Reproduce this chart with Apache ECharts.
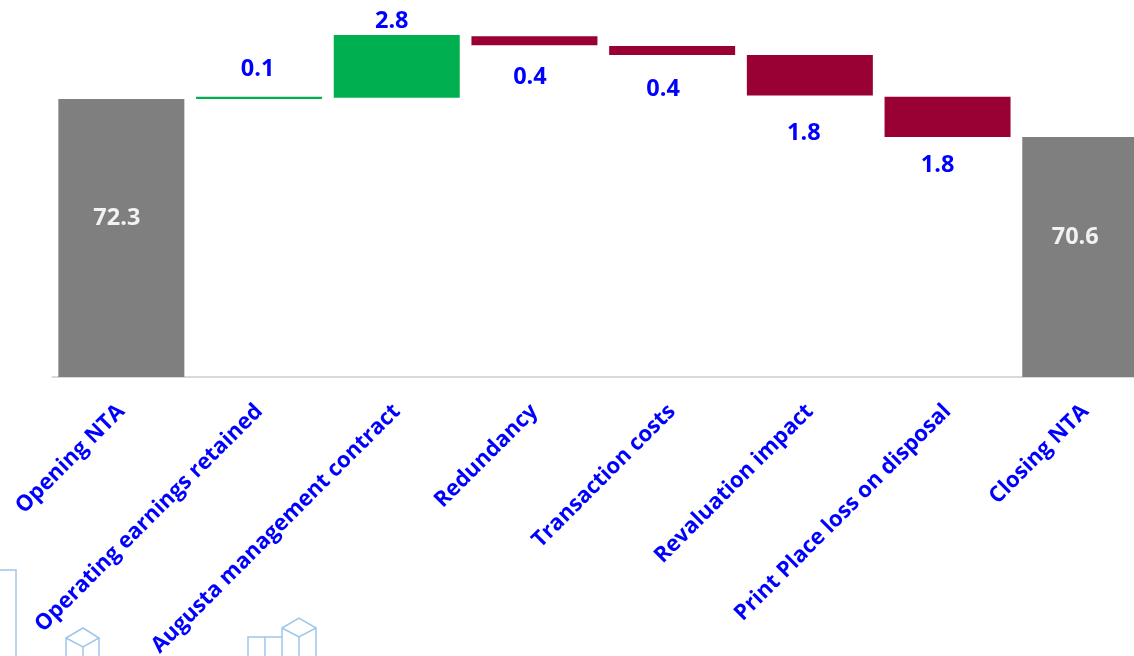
<!DOCTYPE html>
<html>
<head>
<meta charset="utf-8">
<style>html,body{margin:0;padding:0;background:#fff;overflow:hidden}#chart{width:1134px;height:656px}</style>
<script src="https://cdn.jsdelivr.net/npm/echarts@6/dist/echarts.min.js"></script>
</head>
<body>
<div id="chart"></div>
<script>
// NTA bridge: opening balance, movements, closing balance
const categories = ['Opening NTA','Operating earnings retained','Augusta management contract','Redundancy','Transaction costs','Revaluation impact','Print Place loss on disposal','Closing NTA'];
const amounts = [72.3, 0.1, 2.8, 0.4, 0.4, 1.8, 1.8, 70.6];
const floorLevels = [0, 72.3, 72.35, 74.7, 74.26, 72.46, 70.6, 0];
const kinds = ['total','up','up','down','down','down','down','total'];
const palette = {total:'#7f7f7f', up:'#00b050', down:'#990033'};
// Label nudges from each bar's centre, in pixels
const labelShiftX = [-4.5, -1.5, -5, -4.5, -9, -6, -10, -10];
const labelShiftY = [-20, -29, -45, 37, 39, 58, 48, -20];
const FONT = '"Open Sans", sans-serif';
const BLUE = '#0000ff';

const chart = echarts.init(document.getElementById('chart'), null, {renderer:'canvas'});

// Outline pictograms along the lower edge of the slide
const iconPaths = [
  [[0,570],[16,570],[16,656]],
  [[66,656],[66,638],[83,628],[99,638],[83,647],[66,638]],
  [[99,638],[99,656]],
  [[83,647],[83,656]],
  [[248,656],[248,637],[282,637]],
  [[265,637],[265,656]],
  [[282,656],[282,628],[299,618],[316,628],[299,637],[282,628]],
  [[299,637],[299,656]],
  [[316,628],[316,656]]
];

chart.setOption({
  animation:false,
  backgroundColor:'#fff',
  grid:{left:52.5, top:16, width:1101.6, height:361, containLabel:false, outerBoundsMode:'none'},
  xAxis:{
    type:'category', data:categories,
    axisTick:{show:false},
    axisLine:{show:true, lineStyle:{color:'#d9d9d9', width:2}},
    axisLabel:{interval:0, rotate:45, color:BLUE, fontFamily:FONT, fontWeight:'bold', fontSize:22, margin:31}
  },
  yAxis:{type:'value', min:59.9, max:76, show:false, splitLine:{show:false}},
  series:[
    {type:'bar', stack:'bridge', silent:true, barWidth:'91.5%', itemStyle:{color:'transparent'},
     data:floorLevels.map(v => v === 0 ? null : v)},
    {type:'bar', stack:'bridge', barWidth:'91.5%',
     data:amounts.map((v,i) => ({
       value:v,
       itemStyle:{color:palette[kinds[i]]},
       label:{show:true, position:'inside', offset:[labelShiftX[i],labelShiftY[i]], formatter:v.toFixed(1),
              color:kinds[i]==='total' ? '#f2f2f2' : BLUE,
              fontFamily:FONT, fontWeight:'bold', fontSize:23.5}
     }))}
  ],
  graphic:iconPaths.map(points => ({
    type:'polyline', silent:true, z:0,
    shape:{points},
    style:{stroke:'#9fc5ea', lineWidth:1.5, fill:null}
  }))
});
</script>
</body>
</html>
